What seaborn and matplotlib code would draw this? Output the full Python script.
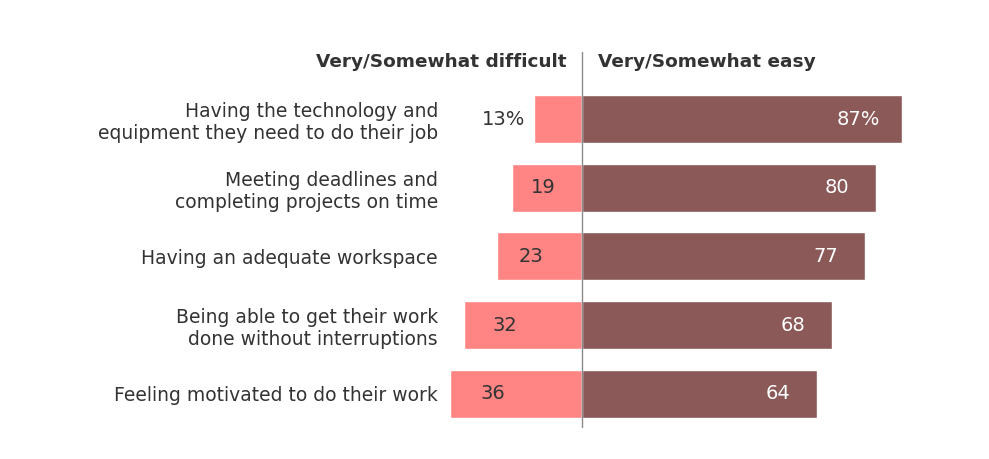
import numpy as np
import pandas as pd
import seaborn as sns
import matplotlib.pyplot as plt

categories = [
    "Having the technology and\nequipment they need to do their job",
    "Meeting deadlines and\ncompleting projects on time",
    "Having an adequate workspace",
    "Being able to get their work\ndone without interruptions",
    "Feeling motivated to do their work",
]
difficult = [13, 19, 23, 32, 36]
easy = [87, 80, 77, 68, 64]
difficult_labels = ["13%", "19", "23", "32", "36"]
easy_labels = ["87%", "80", "77", "68", "64"]

PINK = "#FF8585"
BROWN = "#8C5959"
TEXT = "#333333"

sns.set_style("white")
plt.rcParams['font.family'] = ['DejaVu Sans']

df = pd.DataFrame({"cat": categories, "difficult": difficult, "easy": easy})
df["neg"] = -df["difficult"]

fig = plt.figure(figsize=(9.89, 4.59), dpi=100)
ax = fig.add_axes([0.4545, 0.0675, 0.4575, 0.819])

sns.barplot(data=df, x="neg", y="cat", color=PINK, width=0.7, saturation=1, ax=ax, orient="h")
sns.barplot(data=df, x="easy", y="cat", color=BROWN, width=0.7, saturation=1, ax=ax, orient="h")

ax.set_xlim(-36, 87)
ax.set_ylim(4.5, -0.975)
ax.axvline(0, color="#8a8a8a", lw=1, zorder=5)

num_fs = 14
for i, (d, e, dl, el) in enumerate(zip(difficult, easy, difficult_labels, easy_labels)):
    if d < 15:
        ax.text(-d - 2.3, i, dl, ha="right", va="center", fontsize=num_fs, color=TEXT)
    else:
        ax.text(4.6 - 0.8 * d, i, dl, ha="center", va="center", fontsize=num_fs, color=TEXT)
    ax.text(e - 6 if el.endswith("%") else e - 7.3, i, el, ha="right", va="center",
            fontsize=num_fs, color="white")

ax.text(-4.3, -0.83, "Very/Somewhat difficult", ha="right", va="center",
        fontsize=13.3, fontweight="bold", color=TEXT)
ax.text(4.3, -0.83, "Very/Somewhat easy", ha="left", va="center",
        fontsize=13.3, fontweight="bold", color=TEXT)

ax.set_xlabel("")
ax.set_ylabel("")
ax.set_xticks([])
ax.tick_params(axis="y", length=0, pad=8.3, labelsize=13.5, labelcolor=TEXT)
for s in ax.spines.values():
    s.set_visible(False)

fig.savefig("out.png", dpi=100)
